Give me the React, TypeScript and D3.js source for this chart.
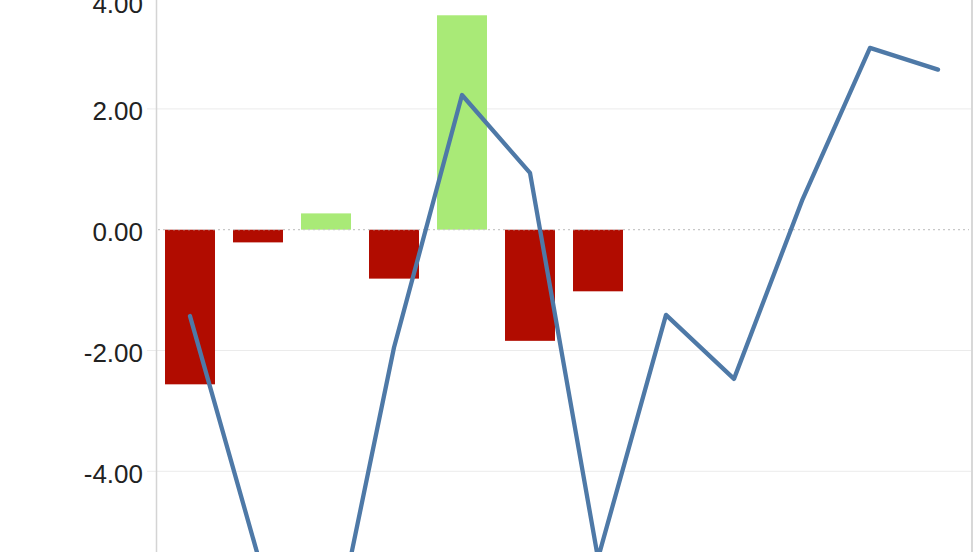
import React, { useEffect, useRef } from "react";
import * as d3 from "d3";

// categories along the x axis (no labels are shown in the view)
const categories = ["Jan", "Feb", "Mar", "Apr", "May", "Jun", "Jul", "Aug", "Sep", "Oct", "Nov", "Dec"];

// bar series (only the first seven periods carry a bar)
const barCategories = ["Jan", "Feb", "Mar", "Apr", "May", "Jun", "Jul"];
const barValues = [-2.56, -0.21, 0.27, -0.81, 3.55, -1.84, -1.02];

// line series
const lineValues = [-1.43, -5.4, -7.4, -1.95, 2.23, 0.94, -5.44, -1.41, -2.47, 0.48, 3.01, 2.65];

// y axis ticks
const yTicks = [4, 2, 0, -2, -4];

const WIDTH = 980;
const HEIGHT = 552;

const App: React.FC = () => {
  const svgRef = useRef<SVGSVGElement | null>(null);

  useEffect(() => {
    const svg = d3.select(svgRef.current);
    svg.selectAll("*").remove();

    const left = 156;
    const right = 972;

    const xScale = d3
      .scaleBand<string>()
      .domain(categories)
      .range([left, right])
      .paddingInner(0.265)
      .paddingOuter(0.1325);

    // the view is cropped: 0 sits at ~230px and the plot runs below the window
    const yScale = d3.scaleLinear().domain([-6, 4]).range([592.1, -11.9]);

    // plain hyphen for negatives, like the source
    const fmt = (v: number) => d3.format(".2f")(v).replace("\u2212", "-");

    // gridlines
    svg
      .append("g")
      .selectAll("line")
      .data(yTicks.filter((t) => t !== 0))
      .join("line")
      .attr("x1", left - 9)
      .attr("x2", right)
      .attr("y1", (d) => yScale(d))
      .attr("y2", (d) => yScale(d))
      .attr("stroke", "#ebebeb")
      .attr("stroke-width", 1);

    // tick labels (top one is pushed down into the view)
    svg
      .append("g")
      .selectAll("text")
      .data(yTicks)
      .join("text")
      .attr("x", 143)
      .attr("y", (d) => Math.max(yScale(d) + 11.5, 13))
      .attr("text-anchor", "end")
      .attr("font-family", "Liberation Sans, Arial, sans-serif")
      .attr("font-size", 26)
      .attr("fill", "#222")
      .text((d) => fmt(d));

    // bars
    svg
      .append("g")
      .selectAll("rect")
      .data(barValues)
      .join("rect")
      .attr("x", (_, i) => xScale(barCategories[i])!)
      .attr("width", xScale.bandwidth())
      .attr("y", (d) => yScale(Math.max(0, d)))
      .attr("height", (d) => Math.abs(yScale(d) - yScale(0)))
      .attr("fill", (d) => (d >= 0 ? "#a9ea77" : "#b10c00"));

    // zero line (dotted)
    svg
      .append("line")
      .attr("x1", left + 2)
      .attr("x2", right - 3)
      .attr("y1", yScale(0))
      .attr("y2", yScale(0))
      .attr("stroke", "#c8c8c8")
      .attr("stroke-width", 1.2)
      .attr("stroke-dasharray", "2,3");

    // line series
    const line = d3
      .line<number>()
      .x((_, i) => xScale(categories[i])! + xScale.bandwidth() / 2)
      .y((d) => yScale(d));

    svg
      .append("path")
      .datum(lineValues)
      .attr("d", line)
      .attr("fill", "none")
      .attr("stroke", "#4e79a7")
      .attr("stroke-width", 4.3)
      .attr("stroke-linejoin", "round")
      .attr("stroke-linecap", "round");

    // axis line and right border
    svg
      .append("line")
      .attr("x1", left + 0.5)
      .attr("x2", left + 0.5)
      .attr("y1", 0)
      .attr("y2", HEIGHT)
      .attr("stroke", "#d4d4d4")
      .attr("stroke-width", 1.5);

    svg
      .append("line")
      .attr("x1", right)
      .attr("x2", right)
      .attr("y1", 0)
      .attr("y2", HEIGHT)
      .attr("stroke", "#d8d8d8")
      .attr("stroke-width", 2);
  }, []);

  return (
    <svg
      ref={svgRef}
      width={WIDTH}
      height={HEIGHT}
      style={{ position: "absolute", left: 0, top: 0, background: "#fff" }}
    />
  );
};

export default App;
